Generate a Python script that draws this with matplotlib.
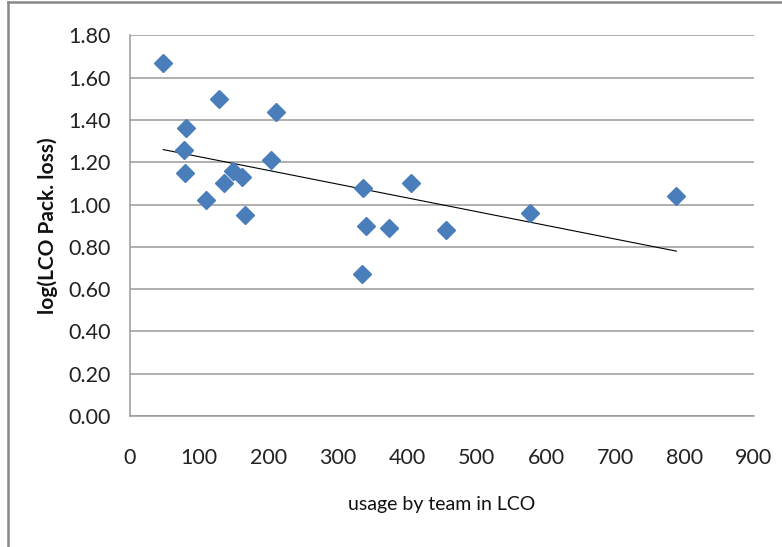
import numpy as np
import matplotlib.pyplot as plt
from matplotlib.lines import Line2D

# Dados
uso = [48, 128, 211, 81, 78, 79, 204, 149, 162, 136, 110, 166,
       336, 405, 341, 374, 456, 577, 788, 335]
log_perda = [1.67, 1.50, 1.44, 1.36, 1.26, 1.15, 1.21, 1.16, 1.13, 1.10, 1.02, 0.95,
             1.08, 1.10, 0.90, 0.89, 0.88, 0.96, 1.04, 0.67]
yticks = [0.0, 0.2, 0.4, 0.6, 0.8, 1.0, 1.2, 1.4, 1.6, 1.8]
xticks = [0, 100, 200, 300, 400, 500, 600, 700, 800, 900]

plt.rcParams['font.family'] = ['Lato', 'DejaVu Sans']

fig = plt.figure(figsize=(7.82, 5.47), dpi=100)
ax = fig.add_axes([130/782, 1 - 416/547, 624/782, 380.6/547])

# Linha de tendência (mínimos quadrados)
a, b = np.polyfit(uso, log_perda, 1)
xt = np.array([min(uso), max(uso)])
ax.plot(xt, a*xt + b, color='black', lw=0.8, zorder=2)

ax.plot(uso, log_perda, 'D', color='#4a7ebb', markersize=9, mec='#4a7ebb', zorder=3)

ax.set_xlim(0, 900)
ax.set_ylim(0, 1.8)
ax.set_xticks(xticks)
ax.set_yticks(yticks)
ax.set_yticklabels(['%.2f' % v for v in yticks])
ax.tick_params(length=0, labelsize=15.5, colors='#222222')
ax.tick_params(axis='y', pad=14)
ax.tick_params(axis='x', pad=23)
ax.grid(axis='y', color='#9a9a9a', lw=1.1)
ax.set_axisbelow(True)
for s in ['top', 'right']:
    ax.spines[s].set_visible(False)
ax.spines['left'].set_color('#9a9a9a')
ax.spines['bottom'].set_color('#9a9a9a')
ax.spines['left'].set_linewidth(1.1)
ax.spines['bottom'].set_linewidth(1.1)

ax.set_xlabel('usage by team in LCO', fontsize=14, color='#111111', labelpad=20)
ax.set_ylabel('log(LCO Pack. loss)', fontsize=15, fontweight='bold', color='#111111', labelpad=7)

# Moldura da figura (só esquerda e topo aparecem)
fig.add_artist(Line2D([8/782, 8/782], [0, 1 - 2/547], transform=fig.transFigure, color='#888888', lw=1.8))
fig.add_artist(Line2D([8/782, 1], [1 - 2/547, 1 - 2/547], transform=fig.transFigure, color='#888888', lw=1.8))

fig.savefig('out.png', dpi=100)
